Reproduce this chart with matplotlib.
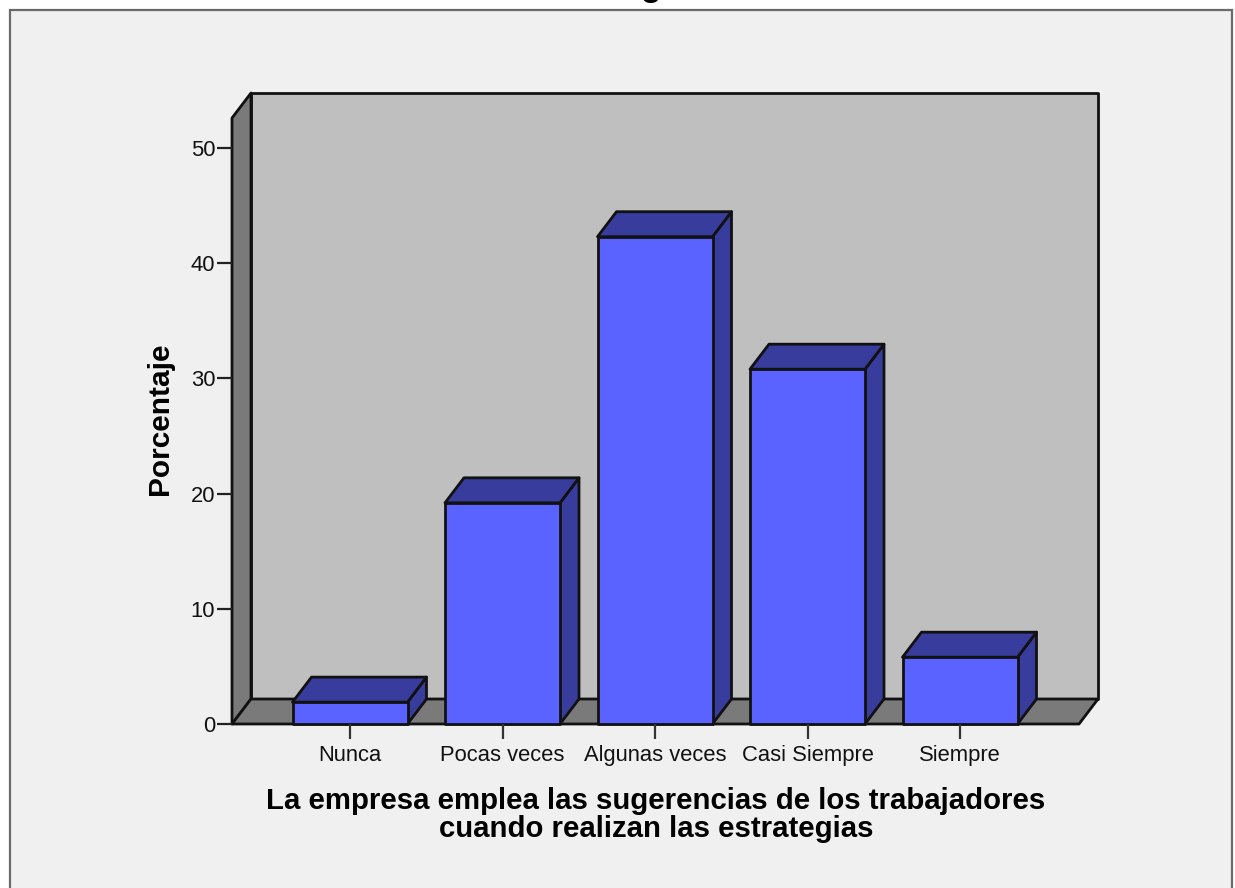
import matplotlib
matplotlib.use("Agg")
import matplotlib.pyplot as plt
from matplotlib.patches import Polygon, Rectangle

categories = ["Nunca", "Pocas veces", "Algunas veces", "Casi Siempre", "Siempre"]
porcentaje = [1.9, 19.2, 42.3, 30.8, 5.8]
yticks = [0, 10, 20, 30, 40, 50]

W, H = 1235, 888
# plot box in pixels
LEFT, RIGHT, TOP, BOTTOM = 232, 1098, 93, 724
PX_X = 152.5  # pixels per category
PX_Y = 11.52  # pixels per percent
DX = 19 / PX_X
DY = 25 / PX_Y
BAR_W = 115 / PX_X

plt.rcParams["font.family"] = ["Liberation Sans", "DejaVu Sans"]

fig = plt.figure(figsize=(W / 100, H / 100), dpi=100, facecolor="white")

# chart frame, runs off the image at the bottom
fig.patches.append(Rectangle((9.5 / W, -0.05), (1232 - 9.5) / W, 1.05 - 10.5 / H,
                             transform=fig.transFigure, facecolor="#f0f0f0",
                             edgecolor="#6a6a6a", linewidth=1.6, zorder=-1))

ax = fig.add_axes([LEFT / W, 1 - BOTTOM / H, (RIGHT - LEFT) / W, (BOTTOM - TOP) / H])
ax.set_xlim(-(350 - LEFT) / PX_X, (RIGHT - 350) / PX_X)
ax.set_ylim(0, (BOTTOM - TOP) / PX_Y)
ax.patch.set_visible(False)
for s in ax.spines.values():
    s.set_visible(False)

x0, x1 = ax.get_xlim()
y1 = ax.get_ylim()[1]
line = dict(edgecolor="#111111", linewidth=2.0, joinstyle="round", clip_on=False)

# back wall, side wall, floor
ax.add_patch(Polygon([(x0 + DX, DY), (x1, DY), (x1, y1), (x0 + DX, y1)], facecolor="#bfbfbf", **line))
ax.add_patch(Polygon([(x0, 0), (x0 + DX, DY), (x0 + DX, y1), (x0, y1 - DY)], facecolor="#7a7a7a", **line))
ax.add_patch(Polygon([(x0, 0), (x1 - DX, 0), (x1, DY), (x0 + DX, DY)], facecolor="#7a7a7a", **line))

for i, v in enumerate(porcentaje):
    l, r = i - BAR_W / 2, i + BAR_W / 2
    ax.add_patch(Polygon([(r, 0), (r + DX, DY), (r + DX, v + DY), (r, v)], facecolor="#383c9c", **line))
    ax.add_patch(Polygon([(l, v), (r, v), (r + DX, v + DY), (l + DX, v + DY)], facecolor="#383c9c", **line))
    ax.add_patch(Polygon([(l, 0), (r, 0), (r, v), (l, v)], facecolor="#5a62ff", **line))

ax.set_xticks(range(len(categories)))
ax.set_xticklabels(categories, fontsize=15.8, color="#111111")
ax.set_yticks(yticks)
ax.set_yticklabels([str(t) for t in yticks], fontsize=15.8, color="#111111")
ax.tick_params(axis="x", length=11, width=1.6, color="#333333", pad=4)
ax.tick_params(axis="y", length=11, width=1.6, color="#222222", pad=1)

fig.text(160 / W, 1 - 419 / H, "Porcentaje", rotation=90, ha="center", va="center",
         fontsize=21.5, fontweight="bold", color="black")
fig.text(656 / W, 1 - 815 / H,
         "La empresa emplea las sugerencias de los trabajadores\ncuando realizan las estrategias",
         ha="center", va="center", fontsize=21.2, fontweight="bold", color="black",
         linespacing=1.03)
# title is cut off by the top of the picture, only the descender of the g shows
fig.text(651 / W, 1 + 4 / H, "g", ha="center", va="baseline", fontsize=24,
         fontweight="bold", color="black")

fig.savefig("out.png", dpi=100, facecolor="white")
